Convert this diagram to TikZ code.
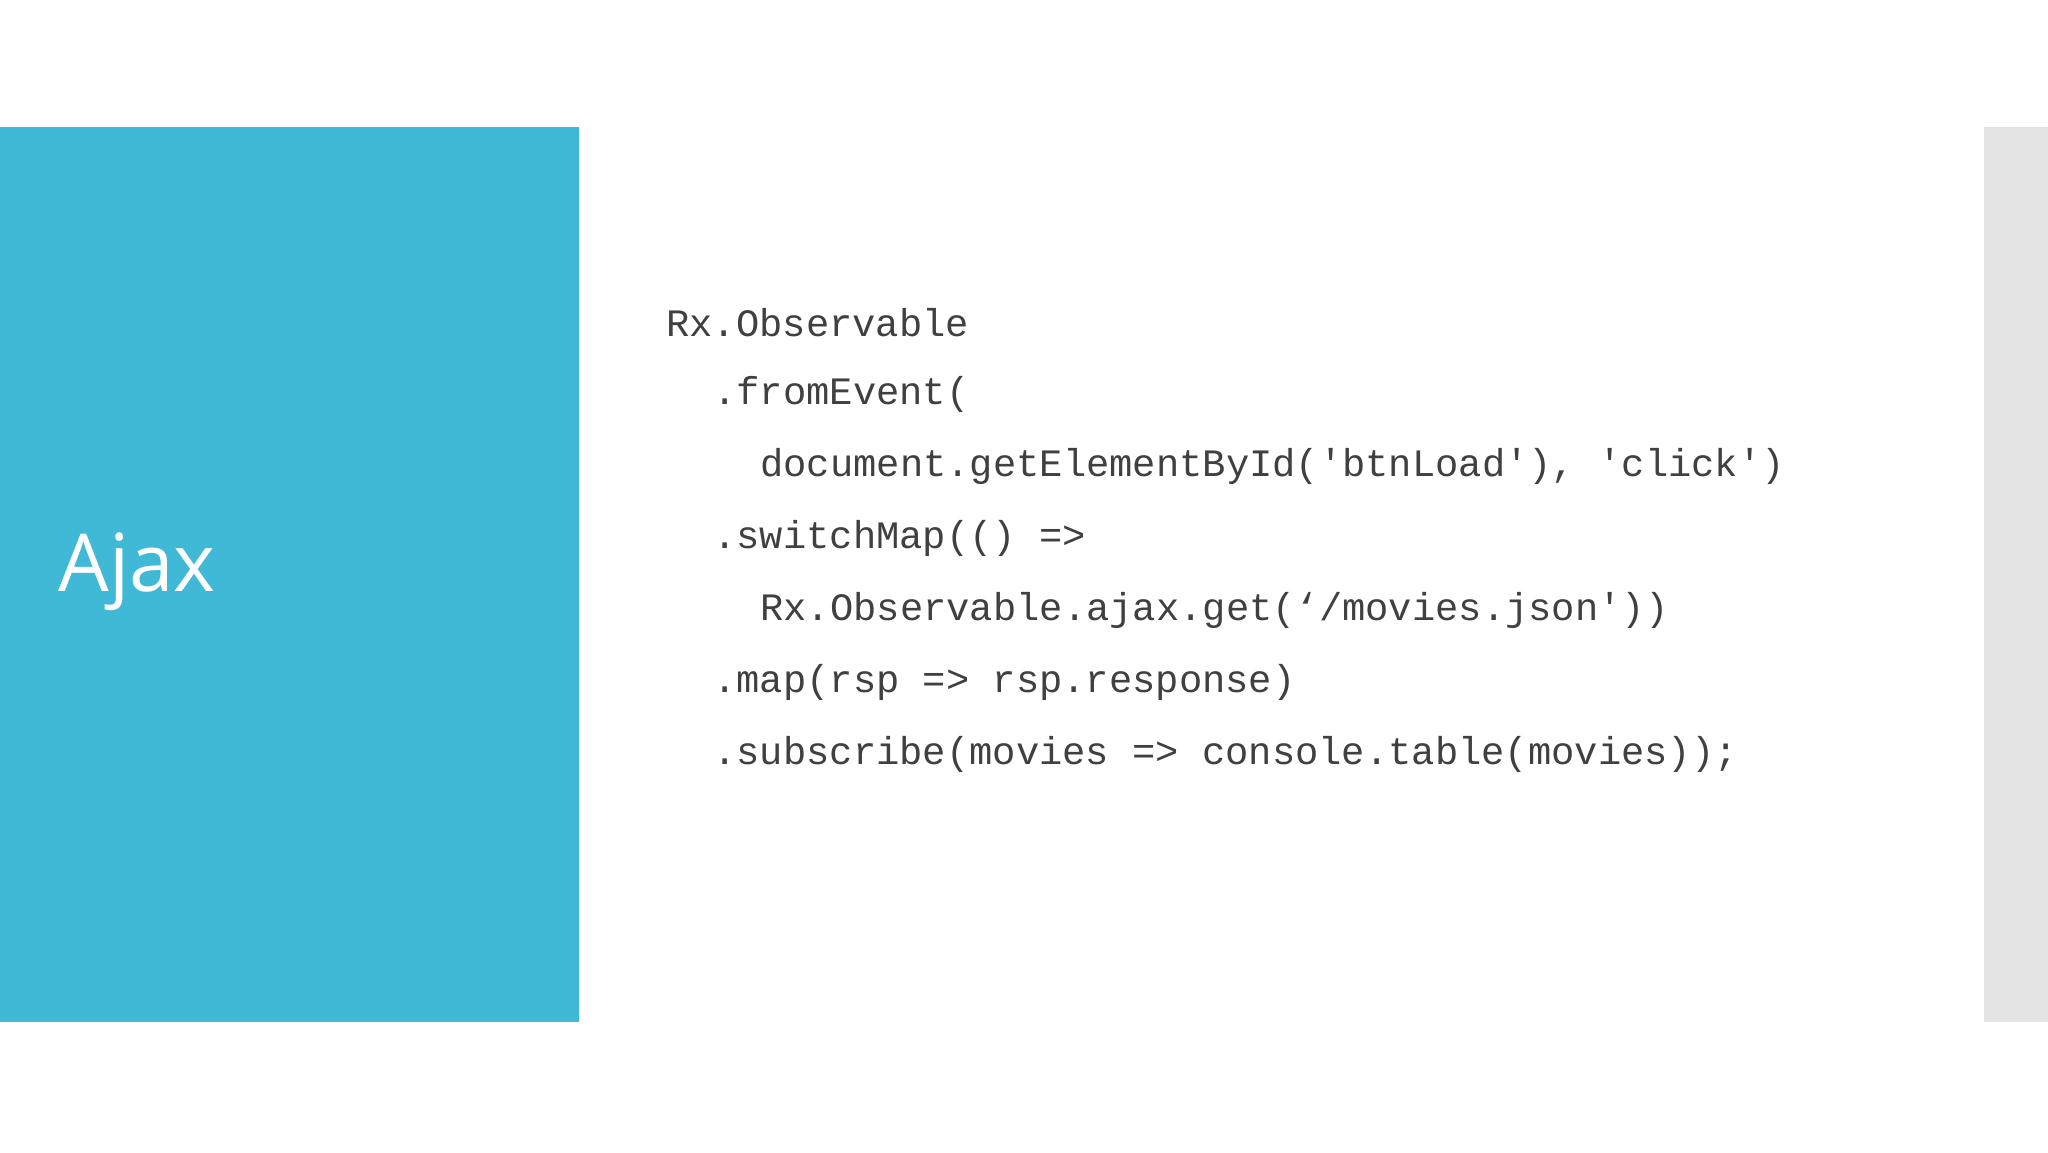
\documentclass[tikz,border=0pt]{standalone}
\usepackage{fontspec}
\setmainfont{Open Sans}
\setmonofont{Liberation Mono}
\begin{document}
\begin{tikzpicture}[x=0.5pt,y=-0.5pt,
  code/.style={anchor=west,inner sep=0pt,text=codegray,font=\ttfamily\fontsize{19.4pt}{22pt}\selectfont}]
\definecolor{blueband}{HTML}{3FB9D5}
\definecolor{grayband}{HTML}{E4E4E4}
\definecolor{codegray}{HTML}{404040}
\useasboundingbox (0,0) rectangle (2048,1152);
\fill[white] (0,0) rectangle (2048,1152);
\fill[blueband] (0,127) rectangle (579,1022);
\fill[grayband] (1984,127) rectangle (2048,1022);
\node[anchor=west,inner sep=0pt,text=white,font=\fontsize{40pt}{48pt}\selectfont] (title) at (58,572) {Ajax};
\node[code] (l1) at (666,323) {Rx.Observable};
\node[code] (l2) at (713,394) {.fromEvent(};
\node[code] (l3) at (760,466) {document.getElementById('btnLoad'), 'click')};
\node[code] (l4) at (713,538) {.switchMap(() =>};
\node[code] (l5) at (760,610) {Rx.Observable.ajax.get(‘/movies.json'))};
\node[code] (l6) at (713,682) {.map(rsp => rsp.response)};
\node[code] (l7) at (713,754) {.subscribe(movies => console.table(movies));};
\end{tikzpicture}
\end{document}
